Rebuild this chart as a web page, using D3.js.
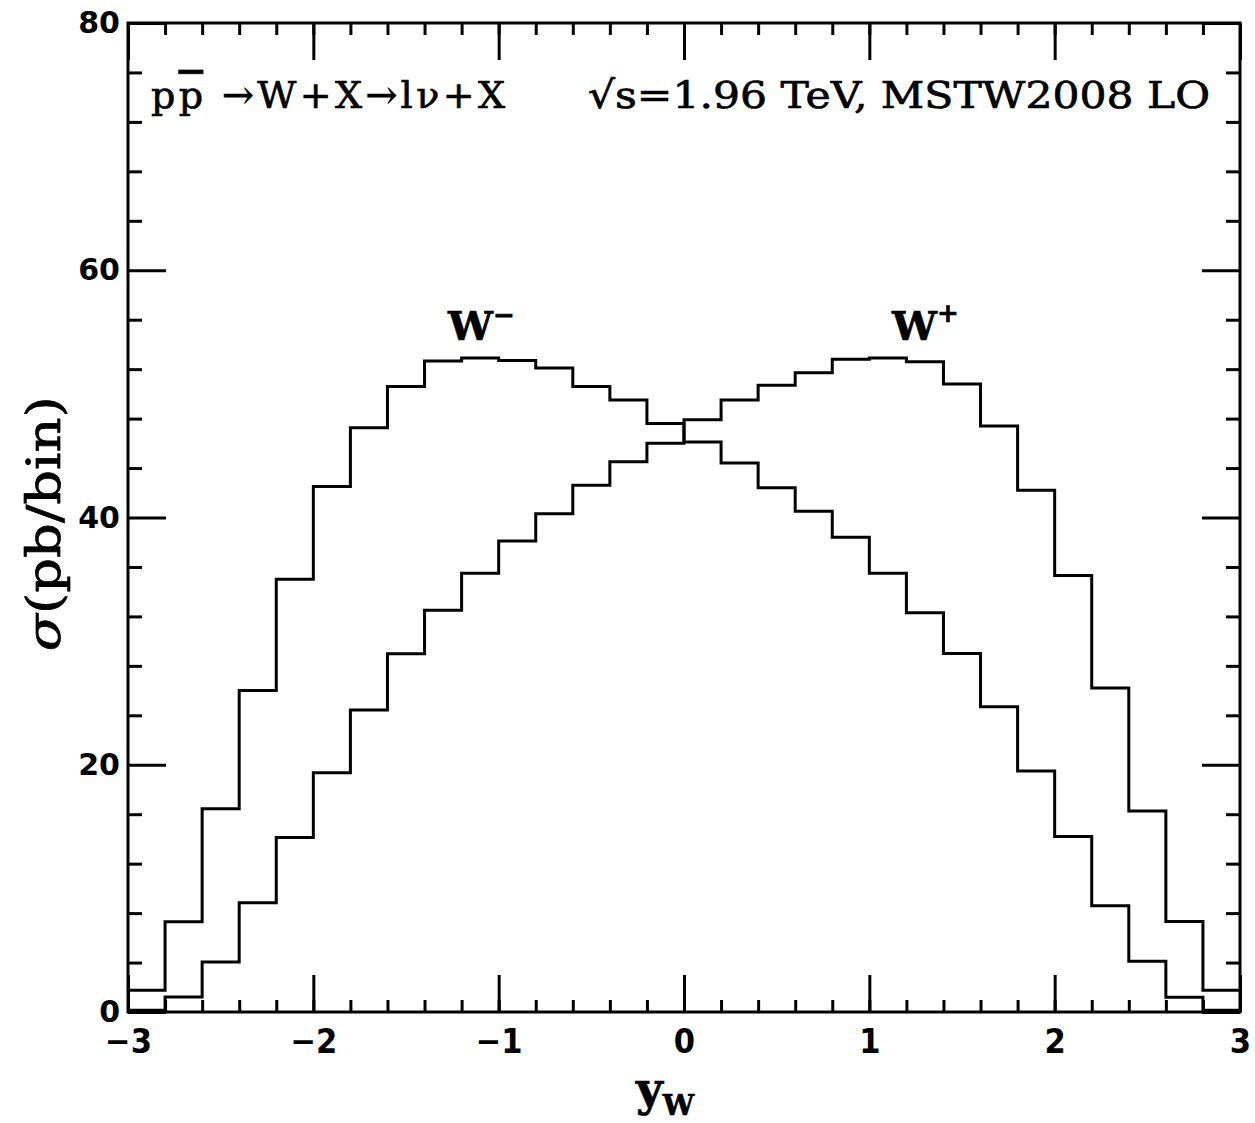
<!DOCTYPE html>
<html>
<head>
<meta charset="utf-8">
<title>W rapidity</title>
<script src="https://cdn.jsdelivr.net/npm/d3@7"></script>
<style>
  body { margin: 0; background: #fff; }
  .axis path.domain { display: none; }
  .axis line { stroke: #000; stroke-width: 3px; }
  .xlab text { font-family: "DejaVu Sans Condensed", "DejaVu Sans", sans-serif; font-weight: bold; font-size: 34px; fill: #000; }
  .ylab text { font-family: "DejaVu Sans", sans-serif; font-weight: bold; font-size: 30px; fill: #000; }
  .hist { fill: none; stroke: #000; stroke-width: 3px; }
  .lbl { font-family: "DejaVu Serif", serif; fill: #000; stroke: #000; stroke-width: 0.7px; }
</style>
</head>
<body>
<script>
// bin edges of the histogram (width 0.2)
var binEdges = [-3, -2.8, -2.6, -2.4, -2.2, -2, -1.8, -1.6, -1.4, -1.2, -1, -0.8, -0.6, -0.4, -0.2,
                0, 0.2, 0.4, 0.6, 0.8, 1, 1.2, 1.4, 1.6, 1.8, 2, 2.2, 2.4, 2.6, 2.8, 3];

// sigma (pb/bin) per bin
var wMinus = [1.75, 7.3, 16.45, 26.0, 35.0, 42.5, 47.25, 50.6, 52.65, 52.9, 52.7, 52.1, 50.6, 49.5, 47.6,
              46.1, 44.4, 42.4, 40.5, 38.4, 35.5, 32.3, 29.0, 24.7, 19.5, 14.2, 8.6, 4.1, 1.2, 0.15];
var wPlus  = [0.15, 1.21, 4.04, 8.84, 14.12, 19.35, 24.42, 28.98, 32.5, 35.5, 38.1, 40.3, 42.6, 44.5, 46.0,
              47.9, 49.5, 50.7, 51.7, 52.8, 52.9, 52.6, 50.8, 47.4, 42.2, 35.3, 26.2, 16.25, 7.33, 1.75];

var xMajor = [-3, -2, -1, 0, 1, 2, 3];
var xMinor = binEdges;
var yMajor = [0, 20, 40, 60, 80];
var yMinor = [4, 8, 12, 16, 24, 28, 32, 36, 44, 48, 52, 56, 64, 68, 72, 76];

var width = 1255, height = 1123;
var plotL = 128, plotR = 1240, plotT = 23, plotB = 1012;

var x = d3.scaleLinear().domain([-3, 3]).range([plotL, plotR]);
var y = d3.scaleLinear().domain([0, 80]).range([plotB, plotT]);

var svg = d3.select("body").append("svg")
    .attr("width", width)
    .attr("height", height);

// ticks on all four sides, pointing inward
svg.append("g").attr("class", "axis xlab")
    .attr("transform", "translate(0," + plotB + ")")
    .call(d3.axisBottom(x).tickValues(xMajor).tickSize(-37).tickPadding(17)
        .tickFormat(function (d) { return d < 0 ? "\u2212" + Math.abs(d) : d; }));
svg.append("g").attr("class", "axis")
    .attr("transform", "translate(0," + plotB + ")")
    .call(d3.axisBottom(x).tickValues(xMinor).tickSize(-12).tickFormat(""));
svg.append("g").attr("class", "axis")
    .attr("transform", "translate(0," + plotT + ")")
    .call(d3.axisTop(x).tickValues(xMajor).tickSize(-37).tickFormat(""));
svg.append("g").attr("class", "axis")
    .attr("transform", "translate(0," + plotT + ")")
    .call(d3.axisTop(x).tickValues(xMinor).tickSize(-12).tickFormat(""));

svg.append("g").attr("class", "axis ylab")
    .attr("transform", "translate(" + plotL + ",0)")
    .call(d3.axisLeft(y).tickValues(yMajor).tickSize(-38).tickPadding(8));
svg.append("g").attr("class", "axis")
    .attr("transform", "translate(" + plotL + ",0)")
    .call(d3.axisLeft(y).tickValues(yMinor).tickSize(-14).tickFormat(""));
svg.append("g").attr("class", "axis")
    .attr("transform", "translate(" + plotR + ",0)")
    .call(d3.axisRight(y).tickValues(yMajor).tickSize(-38).tickFormat(""));
svg.append("g").attr("class", "axis")
    .attr("transform", "translate(" + plotR + ",0)")
    .call(d3.axisRight(y).tickValues(yMinor).tickSize(-14).tickFormat(""));

// frame
svg.append("rect")
    .attr("x", x(-3)).attr("y", y(80))
    .attr("width", x(3) - x(-3)).attr("height", y(0) - y(80))
    .attr("fill", "none").attr("stroke", "#000").attr("stroke-width", 3);

// histograms
var step = d3.line()
    .x(function (d) { return x(d[0]); })
    .y(function (d) { return y(d[1]); })
    .curve(d3.curveStepAfter);

function toSteps(vals) {
    var pts = vals.map(function (v, i) { return [binEdges[i], v]; });
    pts.push([binEdges[binEdges.length - 1], vals[vals.length - 1]]);
    return pts;
}

svg.append("path").attr("class", "hist").attr("d", step(toSteps(wMinus)));
svg.append("path").attr("class", "hist").attr("d", step(toSteps(wPlus)));

// curve labels
var wm = svg.append("text").attr("class", "lbl")
    .attr("x", 448).attr("y", 340).style("font-size", "40px").style("font-weight", "bold");
wm.append("tspan").text("W");
wm.append("tspan").attr("dy", -16).style("font-size", "26px").text("\u2212");

var wp = svg.append("text").attr("class", "lbl")
    .attr("x", 892).attr("y", 340).style("font-size", "40px").style("font-weight", "bold");
wp.append("tspan").text("W");
wp.append("tspan").attr("dy", -18).style("font-size", "26px").text("+");

// process text
var proc = svg.append("text").attr("class", "lbl")
    .attr("x", 151).attr("y", 108).style("font-size", "38px")
    .attr("textLength", 354).attr("lengthAdjust", "spacing");
proc.append("tspan").text("p");
proc.append("tspan").style("text-decoration", "overline").text("p");
proc.append("tspan").text(" \u2192W+X\u2192l\u03bd+X");

svg.append("text").attr("class", "lbl")
    .attr("x", 588).attr("y", 108).style("font-size", "38px")
    .attr("textLength", 622).attr("lengthAdjust", "spacingAndGlyphs")
    .text("\u221as=1.96 TeV, MSTW2008 LO");

// axis titles
svg.append("text").attr("class", "lbl")
    .attr("transform", "translate(60," + y(39.5) + ") rotate(-90)")
    .attr("text-anchor", "middle")
    .attr("textLength", 255).attr("lengthAdjust", "spacingAndGlyphs")
    .style("font-size", "46px")
    .html("<tspan font-style='italic'>\u03c3</tspan>(pb/bin)");

var xt = svg.append("text").attr("class", "lbl")
    .attr("x", 636).attr("y", 1105).style("font-size", "46px").style("font-weight", "bold");
xt.append("tspan").text("y");
xt.append("tspan").attr("dy", 10).style("font-size", "28px").text("W");
</script>
</body>
</html>
